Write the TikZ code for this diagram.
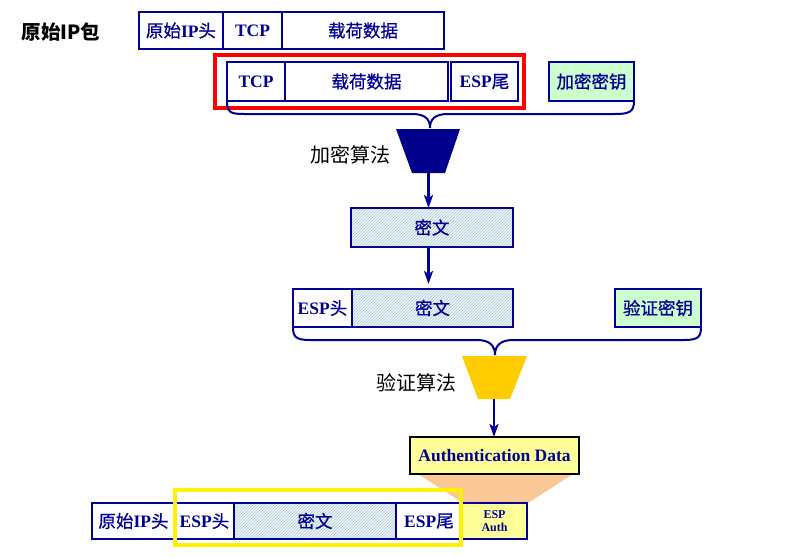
\documentclass[tikz,border=0pt]{standalone}
\usepackage{fontspec}
\setmainfont{Liberation Serif}
\newfontfamily\cjkfont{Noto Sans CJK SC}
\newfontfamily\cjkmed{Noto Sans CJK SC}[FakeBold=0.8]
\newcommand\zhtxt[1]{{\cjkmed\mdseries #1}}
\usetikzlibrary{patterns,arrows.meta}
\definecolor{navy}{RGB}{0,0,150}
\definecolor{navyfill}{RGB}{0,0,140}
\definecolor{keygreen}{RGB}{204,255,204}
\definecolor{authyellow}{RGB}{255,255,153}
\definecolor{algyellow}{RGB}{255,204,0}
\definecolor{peach}{RGB}{250,200,150}
\definecolor{hatchbg}{RGB}{238,245,248}
\definecolor{hatchline}{RGB}{175,200,215}
\tikzset{
  pbox/.style={draw=navy, line width=2.2pt, inner sep=0pt, outer sep=0pt, text=navy,
    font=\fontsize{17.5}{17.5}\selectfont\bfseries},
  hatchbox/.style={pbox, preaction={fill=hatchbg}, pattern=north east lines, pattern color=hatchline},
  keybox/.style={pbox, fill=keygreen},
  brace/.style={draw=navy, line width=2pt},
  arr/.style={draw=navy, line width=2.4pt, -{Stealth[length=13pt,width=9pt,inset=3pt]}},
  lbl/.style={font=\fontsize{20}{20}\selectfont\cjkfont, text=black},
  frame/.style={line width=4pt}
}
\begin{document}
\begin{tikzpicture}[x=1pt,y=-1pt]
\useasboundingbox (0,0) rectangle (799,557);

% label
\node[lbl, font=\fontsize{19.5}{19.5}\selectfont\cjkfont\bfseries] (orig) at (61,32) {原始IP包};

% row 1
\node[pbox, minimum width=84, minimum height=37] (ip1) at (181,30.5) {\zhtxt{原始}IP\zhtxt{头}};
\node[pbox, minimum width=59, minimum height=37] (tcp1) at (252.5,30.5) {TCP};
\node[pbox, minimum width=162, minimum height=37] (pl1) at (363,30.5) {\zhtxt{载荷数据}};

% row 2
\node[pbox, minimum width=58, minimum height=39] (tcp2) at (256,81.5) {TCP};
\node[pbox, minimum width=163, minimum height=39] (pl2) at (366.5,81.5) {\zhtxt{载荷数据}};
\node[pbox, minimum width=67, minimum height=39] (esptr2) at (484.5,81.5) {ESP\zhtxt{尾}};
\node[keybox, minimum width=85, minimum height=39] (enckey) at (591.5,81.5) {\zhtxt{加密密钥}};
\draw[frame, red] (215,55) rectangle (524,108);

% brace 1
\coordinate (enctip) at (430,128);
\draw[brace] (tcp2.south west) .. controls +(0,11) and +(-14,0) .. (244,114) -- (412,114)
  .. controls +(13,0) and +(0,-9) .. (enctip)
  .. controls +(0,-9) and +(-13,0) .. (448,114) -- (615,114)
  .. controls +(14,0) and +(0,11) .. (enckey.south east);

% encryption algorithm
\fill[navyfill] (396,129) -- (460,129) -- (445,173) -- (412,173) -- cycle;
\coordinate (encbot) at (428.5,173);
\node[lbl] (enclbl) at (350,155) {加密算法};

% ciphertext
\node[hatchbox, minimum width=162, minimum height=39] (ct1) at (432,227.5) {\zhtxt{密文}};
\draw[arr] (encbot) -- (encbot |- ct1.north);

% row 3
\node[pbox, minimum width=59, minimum height=38] (esph3) at (322.5,308) {ESP\zhtxt{头}};
\node[hatchbox, minimum width=161, minimum height=38] (ct3) at (432.5,308) {\zhtxt{密文}};
\node[keybox, minimum width=86, minimum height=38] (authkey) at (658,308) {\zhtxt{验证密钥}};
\draw[arr, shorten >=5pt] (ct1.south -| encbot) -- (ct3.north -| encbot);

% brace 2
\coordinate (authtip) at (495,355);
\draw[brace] (esph3.south west) .. controls +(0,10) and +(-14,0) .. (310,340) -- (477,340)
  .. controls +(13,0) and +(0,-9) .. (authtip)
  .. controls +(0,-9) and +(-13,0) .. (513,340) -- (684,340)
  .. controls +(14,0) and +(0,10) .. (authkey.south east);

% authentication algorithm
\fill[algyellow] (462,356) -- (527,356) -- (510,399) -- (478,399) -- cycle;
\coordinate (authbot) at (494,399);
\node[lbl] (authlbl) at (416,383) {验证算法};

% funnel
\fill[peach] (418,474) -- (573,474) -- (528,503) -- (463,503) -- cycle;

% auth data
\node[pbox, draw=black, line width=2pt, fill=authyellow, minimum width=169, minimum height=37] (authd) at (494.5,455.5) {Authentication Data};
\draw[arr] (authbot) -- (authbot |- authd.north);

% bottom row
\node[pbox, minimum width=83, minimum height=36] (ip5) at (133.5,521) {\zhtxt{原始}IP\zhtxt{头}};
\node[pbox, minimum width=59, minimum height=36] (esph5) at (204.5,521) {ESP\zhtxt{头}};
\node[hatchbox, minimum width=162, minimum height=36] (ct5) at (315,521) {\zhtxt{密文}};
\node[pbox, minimum width=66, minimum height=36] (esptr5) at (429,521) {ESP\zhtxt{尾}};
\node[pbox, fill=authyellow, minimum width=65, minimum height=36, align=center,
  font=\fontsize{12}{13}\selectfont\bfseries] (espauth5) at (494.5,521) {ESP\\Auth};
\draw[frame, yellow] (175,490) rectangle (461,545);

\end{tikzpicture}
\end{document}
